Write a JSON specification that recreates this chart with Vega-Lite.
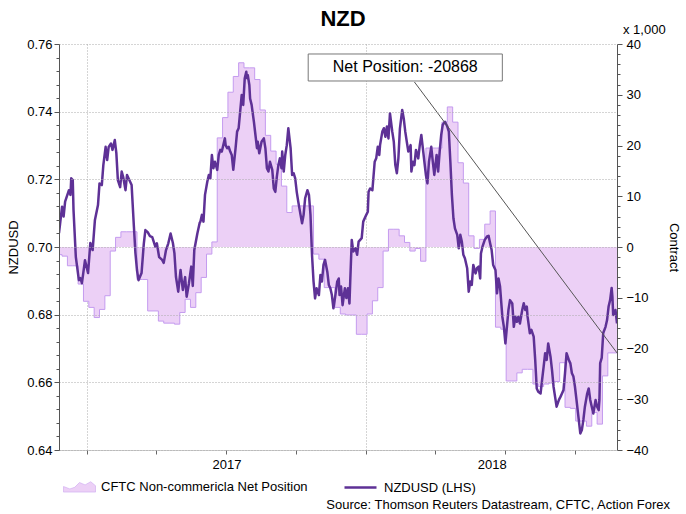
{
  "$schema": "https://vega.github.io/schema/vega-lite/v6.json",
  "width": 558,
  "height": 406,
  "autosize": {"type": "none"},
  "padding": {"left": 59, "top": 44, "right": 69, "bottom": 64},
  "background": "white",
  "config": {
    "font": "Liberation Sans",
    "view": {"stroke": null},
    "axis": {"labelFont": "Liberation Sans", "titleFont": "Liberation Sans", "labelFontSize": 13, "titleFontSize": 13, "labelColor": "#000", "titleColor": "#000", "titleFontWeight": "normal"},
    "legend": {"labelFont": "Liberation Sans", "labelFontSize": 13, "labelColor": "#000", "padding": 0, "labelLimit": 400}
  },
  "title": {"text": "NZD", "fontSize": 22, "fontWeight": "bold", "font": "Liberation Sans", "anchor": "middle", "frame": "group", "offset": 17, "dy": 24, "dx": 5, "color": "#000"},
  "datasets": {
    "cftc": [
      {"date": "2016-11-22", "net": -1500}, {"date": "2016-11-29", "net": -1800}, {"date": "2016-12-06", "net": -3700}, {"date": "2016-12-13", "net": -3700},
      {"date": "2016-12-20", "net": -7300}, {"date": "2016-12-27", "net": -10700}, {"date": "2017-01-03", "net": -11900}, {"date": "2017-01-10", "net": -13900},
      {"date": "2017-01-17", "net": -12300}, {"date": "2017-01-24", "net": -9600}, {"date": "2017-01-31", "net": -800}, {"date": "2017-02-07", "net": 1900},
      {"date": "2017-02-14", "net": 3000}, {"date": "2017-02-21", "net": 3000}, {"date": "2017-02-28", "net": 3000}, {"date": "2017-03-07", "net": -6400},
      {"date": "2017-03-14", "net": -6400}, {"date": "2017-03-21", "net": -12600}, {"date": "2017-03-28", "net": -12600}, {"date": "2017-04-04", "net": -14600},
      {"date": "2017-04-11", "net": -15000}, {"date": "2017-04-18", "net": -15000}, {"date": "2017-04-25", "net": -15200}, {"date": "2017-05-02", "net": -12900},
      {"date": "2017-05-09", "net": -10300}, {"date": "2017-05-16", "net": -11900}, {"date": "2017-05-23", "net": -9000}, {"date": "2017-05-30", "net": -6000},
      {"date": "2017-06-06", "net": -1400}, {"date": "2017-06-13", "net": 1000}, {"date": "2017-06-20", "net": 21500}, {"date": "2017-06-27", "net": 25500},
      {"date": "2017-07-04", "net": 30500}, {"date": "2017-07-11", "net": 33600}, {"date": "2017-07-18", "net": 36300}, {"date": "2017-07-25", "net": 35300},
      {"date": "2017-08-01", "net": 35300}, {"date": "2017-08-08", "net": 33000}, {"date": "2017-08-15", "net": 27000}, {"date": "2017-08-22", "net": 22000},
      {"date": "2017-08-29", "net": 18900}, {"date": "2017-09-05", "net": 16300}, {"date": "2017-09-12", "net": 12000}, {"date": "2017-09-19", "net": 6800},
      {"date": "2017-09-26", "net": 8100}, {"date": "2017-10-03", "net": 8100}, {"date": "2017-10-10", "net": 8100}, {"date": "2017-10-17", "net": 8100},
      {"date": "2017-10-24", "net": -1400}, {"date": "2017-10-31", "net": -2400}, {"date": "2017-11-07", "net": -8000}, {"date": "2017-11-14", "net": -8000},
      {"date": "2017-11-21", "net": -11900}, {"date": "2017-11-28", "net": -13200}, {"date": "2017-12-05", "net": -13400}, {"date": "2017-12-12", "net": -13400},
      {"date": "2017-12-19", "net": -17200}, {"date": "2017-12-26", "net": -17200}, {"date": "2018-01-02", "net": -13200}, {"date": "2018-01-09", "net": -10600},
      {"date": "2018-01-16", "net": -8000}, {"date": "2018-01-23", "net": -800}, {"date": "2018-01-30", "net": 3500}, {"date": "2018-02-06", "net": 3500},
      {"date": "2018-02-13", "net": 2200}, {"date": "2018-02-20", "net": 900}, {"date": "2018-02-27", "net": -800}, {"date": "2018-03-06", "net": -300},
      {"date": "2018-03-13", "net": -2800}, {"date": "2018-03-20", "net": 19500}, {"date": "2018-03-27", "net": 19500}, {"date": "2018-04-03", "net": 19500},
      {"date": "2018-04-10", "net": 24600}, {"date": "2018-04-17", "net": 27600}, {"date": "2018-04-24", "net": 24600}, {"date": "2018-05-01", "net": 16600},
      {"date": "2018-05-08", "net": 12600}, {"date": "2018-05-15", "net": 2200}, {"date": "2018-05-22", "net": -300}, {"date": "2018-05-29", "net": 1500},
      {"date": "2018-06-05", "net": 4500}, {"date": "2018-06-12", "net": 7100}, {"date": "2018-06-19", "net": -15800}, {"date": "2018-06-26", "net": -16200},
      {"date": "2018-07-03", "net": -26400}, {"date": "2018-07-10", "net": -26400}, {"date": "2018-07-17", "net": -24800}, {"date": "2018-07-24", "net": -24100},
      {"date": "2018-07-31", "net": -24100}, {"date": "2018-08-07", "net": -27000}, {"date": "2018-08-14", "net": -27500}, {"date": "2018-08-21", "net": -27000},
      {"date": "2018-08-28", "net": -26800}, {"date": "2018-09-04", "net": -26500}, {"date": "2018-09-11", "net": -22800}, {"date": "2018-09-18", "net": -31600},
      {"date": "2018-09-25", "net": -31800}, {"date": "2018-10-02", "net": -34300}, {"date": "2018-10-09", "net": -34300}, {"date": "2018-10-16", "net": -35300},
      {"date": "2018-10-23", "net": -32600}, {"date": "2018-10-30", "net": -34900}, {"date": "2018-11-06", "net": -25400}, {"date": "2018-11-13", "net": -20868},
      {"date": "2018-11-20", "net": -20868}, {"date": "2018-11-25", "net": -20868}
    ],
    "fx": [
      {"date": "2016-11-25", "nzdusd": 0.7041}, {"date": "2016-11-29", "nzdusd": 0.7119}, {"date": "2016-12-01", "nzdusd": 0.709}, {"date": "2016-12-03", "nzdusd": 0.7134},
      {"date": "2016-12-08", "nzdusd": 0.7168}, {"date": "2016-12-10", "nzdusd": 0.7154}, {"date": "2016-12-11", "nzdusd": 0.7203}, {"date": "2016-12-13", "nzdusd": 0.7198},
      {"date": "2016-12-14", "nzdusd": 0.7109}, {"date": "2016-12-17", "nzdusd": 0.6971}, {"date": "2016-12-21", "nzdusd": 0.6902}, {"date": "2016-12-23", "nzdusd": 0.6908},
      {"date": "2016-12-25", "nzdusd": 0.6893}, {"date": "2016-12-29", "nzdusd": 0.6961}, {"date": "2017-01-02", "nzdusd": 0.6923}, {"date": "2017-01-05", "nzdusd": 0.7012},
      {"date": "2017-01-08", "nzdusd": 0.6991}, {"date": "2017-01-11", "nzdusd": 0.708}, {"date": "2017-01-15", "nzdusd": 0.7124}, {"date": "2017-01-17", "nzdusd": 0.7188},
      {"date": "2017-01-20", "nzdusd": 0.7183}, {"date": "2017-01-22", "nzdusd": 0.7242}, {"date": "2017-01-25", "nzdusd": 0.7296}, {"date": "2017-01-27", "nzdusd": 0.7257},
      {"date": "2017-01-29", "nzdusd": 0.7296}, {"date": "2017-02-01", "nzdusd": 0.7306}, {"date": "2017-02-03", "nzdusd": 0.7287}, {"date": "2017-02-06", "nzdusd": 0.7316},
      {"date": "2017-02-08", "nzdusd": 0.7278}, {"date": "2017-02-10", "nzdusd": 0.7198}, {"date": "2017-02-13", "nzdusd": 0.7177}, {"date": "2017-02-15", "nzdusd": 0.7223},
      {"date": "2017-02-17", "nzdusd": 0.7207}, {"date": "2017-02-20", "nzdusd": 0.7168}, {"date": "2017-02-22", "nzdusd": 0.7213}, {"date": "2017-02-25", "nzdusd": 0.7198},
      {"date": "2017-02-28", "nzdusd": 0.7183}, {"date": "2017-03-03", "nzdusd": 0.706}, {"date": "2017-03-05", "nzdusd": 0.6982}, {"date": "2017-03-07", "nzdusd": 0.6932},
      {"date": "2017-03-09", "nzdusd": 0.6902}, {"date": "2017-03-13", "nzdusd": 0.6923}, {"date": "2017-03-16", "nzdusd": 0.7011}, {"date": "2017-03-18", "nzdusd": 0.705},
      {"date": "2017-03-21", "nzdusd": 0.7044}, {"date": "2017-03-24", "nzdusd": 0.7032}, {"date": "2017-03-27", "nzdusd": 0.7029}, {"date": "2017-03-31", "nzdusd": 0.7001},
      {"date": "2017-04-02", "nzdusd": 0.7011}, {"date": "2017-04-05", "nzdusd": 0.697}, {"date": "2017-04-09", "nzdusd": 0.6962}, {"date": "2017-04-11", "nzdusd": 0.6953},
      {"date": "2017-04-14", "nzdusd": 0.6991}, {"date": "2017-04-17", "nzdusd": 0.7011}, {"date": "2017-04-20", "nzdusd": 0.704}, {"date": "2017-04-23", "nzdusd": 0.7012},
      {"date": "2017-04-25", "nzdusd": 0.6982}, {"date": "2017-04-27", "nzdusd": 0.6912}, {"date": "2017-04-30", "nzdusd": 0.6868}, {"date": "2017-05-03", "nzdusd": 0.6932},
      {"date": "2017-05-06", "nzdusd": 0.6873}, {"date": "2017-05-09", "nzdusd": 0.6911}, {"date": "2017-05-11", "nzdusd": 0.6853}, {"date": "2017-05-14", "nzdusd": 0.6893},
      {"date": "2017-05-17", "nzdusd": 0.6942}, {"date": "2017-05-19", "nzdusd": 0.6885}, {"date": "2017-05-21", "nzdusd": 0.6991}, {"date": "2017-05-25", "nzdusd": 0.704},
      {"date": "2017-05-28", "nzdusd": 0.7071}, {"date": "2017-05-29", "nzdusd": 0.7075}, {"date": "2017-05-31", "nzdusd": 0.7095}, {"date": "2017-06-02", "nzdusd": 0.7075},
      {"date": "2017-06-04", "nzdusd": 0.7154}, {"date": "2017-06-07", "nzdusd": 0.7193}, {"date": "2017-06-09", "nzdusd": 0.7213}, {"date": "2017-06-11", "nzdusd": 0.7203},
      {"date": "2017-06-13", "nzdusd": 0.7272}, {"date": "2017-06-15", "nzdusd": 0.7233}, {"date": "2017-06-17", "nzdusd": 0.7252}, {"date": "2017-06-20", "nzdusd": 0.7228},
      {"date": "2017-06-22", "nzdusd": 0.7272}, {"date": "2017-06-24", "nzdusd": 0.7287}, {"date": "2017-06-26", "nzdusd": 0.7282}, {"date": "2017-06-30", "nzdusd": 0.7321},
      {"date": "2017-07-01", "nzdusd": 0.7301}, {"date": "2017-07-03", "nzdusd": 0.7292}, {"date": "2017-07-05", "nzdusd": 0.7296}, {"date": "2017-07-07", "nzdusd": 0.7282},
      {"date": "2017-07-09", "nzdusd": 0.7272}, {"date": "2017-07-11", "nzdusd": 0.7228}, {"date": "2017-07-14", "nzdusd": 0.7292}, {"date": "2017-07-16", "nzdusd": 0.7341},
      {"date": "2017-07-18", "nzdusd": 0.7351}, {"date": "2017-07-20", "nzdusd": 0.74}, {"date": "2017-07-22", "nzdusd": 0.7449}, {"date": "2017-07-24", "nzdusd": 0.742},
      {"date": "2017-07-26", "nzdusd": 0.7499}, {"date": "2017-07-28", "nzdusd": 0.7518}, {"date": "2017-07-29", "nzdusd": 0.7499}, {"date": "2017-07-30", "nzdusd": 0.7508},
      {"date": "2017-08-01", "nzdusd": 0.7479}, {"date": "2017-08-02", "nzdusd": 0.7439}, {"date": "2017-08-04", "nzdusd": 0.742}, {"date": "2017-08-07", "nzdusd": 0.737},
      {"date": "2017-08-09", "nzdusd": 0.7331}, {"date": "2017-08-11", "nzdusd": 0.7292}, {"date": "2017-08-12", "nzdusd": 0.7311}, {"date": "2017-08-14", "nzdusd": 0.7277},
      {"date": "2017-08-17", "nzdusd": 0.7311}, {"date": "2017-08-20", "nzdusd": 0.7321}, {"date": "2017-08-22", "nzdusd": 0.7292}, {"date": "2017-08-24", "nzdusd": 0.7233},
      {"date": "2017-08-26", "nzdusd": 0.7223}, {"date": "2017-08-28", "nzdusd": 0.7252}, {"date": "2017-08-31", "nzdusd": 0.7228}, {"date": "2017-09-02", "nzdusd": 0.7173},
      {"date": "2017-09-04", "nzdusd": 0.7163}, {"date": "2017-09-06", "nzdusd": 0.7208}, {"date": "2017-09-08", "nzdusd": 0.7242}, {"date": "2017-09-10", "nzdusd": 0.7262},
      {"date": "2017-09-12", "nzdusd": 0.7233}, {"date": "2017-09-13", "nzdusd": 0.7282}, {"date": "2017-09-15", "nzdusd": 0.7223}, {"date": "2017-09-17", "nzdusd": 0.7272},
      {"date": "2017-09-19", "nzdusd": 0.7301}, {"date": "2017-09-21", "nzdusd": 0.7351}, {"date": "2017-09-22", "nzdusd": 0.7331}, {"date": "2017-09-24", "nzdusd": 0.7292},
      {"date": "2017-09-26", "nzdusd": 0.7213}, {"date": "2017-09-28", "nzdusd": 0.7218}, {"date": "2017-09-30", "nzdusd": 0.7203}, {"date": "2017-10-02", "nzdusd": 0.7163},
      {"date": "2017-10-04", "nzdusd": 0.7134}, {"date": "2017-10-07", "nzdusd": 0.7095}, {"date": "2017-10-09", "nzdusd": 0.707}, {"date": "2017-10-11", "nzdusd": 0.7095},
      {"date": "2017-10-13", "nzdusd": 0.7144}, {"date": "2017-10-16", "nzdusd": 0.7168}, {"date": "2017-10-18", "nzdusd": 0.7154}, {"date": "2017-10-20", "nzdusd": 0.7095},
      {"date": "2017-10-22", "nzdusd": 0.6977}, {"date": "2017-10-24", "nzdusd": 0.6898}, {"date": "2017-10-26", "nzdusd": 0.6848}, {"date": "2017-10-28", "nzdusd": 0.6878},
      {"date": "2017-10-31", "nzdusd": 0.6858}, {"date": "2017-11-02", "nzdusd": 0.6917}, {"date": "2017-11-04", "nzdusd": 0.6898}, {"date": "2017-11-06", "nzdusd": 0.6947},
      {"date": "2017-11-08", "nzdusd": 0.6962}, {"date": "2017-11-11", "nzdusd": 0.6927}, {"date": "2017-11-13", "nzdusd": 0.6888}, {"date": "2017-11-15", "nzdusd": 0.6878},
      {"date": "2017-11-17", "nzdusd": 0.6858}, {"date": "2017-11-19", "nzdusd": 0.6819}, {"date": "2017-11-21", "nzdusd": 0.6848}, {"date": "2017-11-24", "nzdusd": 0.6898},
      {"date": "2017-11-26", "nzdusd": 0.6907}, {"date": "2017-11-27", "nzdusd": 0.6858}, {"date": "2017-11-29", "nzdusd": 0.6883}, {"date": "2017-12-01", "nzdusd": 0.6828},
      {"date": "2017-12-04", "nzdusd": 0.6878}, {"date": "2017-12-06", "nzdusd": 0.6849}, {"date": "2017-12-08", "nzdusd": 0.6878}, {"date": "2017-12-10", "nzdusd": 0.6833},
      {"date": "2017-12-11", "nzdusd": 0.6898}, {"date": "2017-12-13", "nzdusd": 0.7021}, {"date": "2017-12-15", "nzdusd": 0.6987}, {"date": "2017-12-18", "nzdusd": 0.6996},
      {"date": "2017-12-20", "nzdusd": 0.6977}, {"date": "2017-12-22", "nzdusd": 0.7016}, {"date": "2017-12-24", "nzdusd": 0.7021}, {"date": "2017-12-26", "nzdusd": 0.7026},
      {"date": "2017-12-28", "nzdusd": 0.7075}, {"date": "2018-01-01", "nzdusd": 0.7095}, {"date": "2018-01-03", "nzdusd": 0.7104}, {"date": "2018-01-04", "nzdusd": 0.7163},
      {"date": "2018-01-06", "nzdusd": 0.7173}, {"date": "2018-01-09", "nzdusd": 0.7168}, {"date": "2018-01-12", "nzdusd": 0.7252}, {"date": "2018-01-14", "nzdusd": 0.7262},
      {"date": "2018-01-16", "nzdusd": 0.7296}, {"date": "2018-01-18", "nzdusd": 0.7272}, {"date": "2018-01-19", "nzdusd": 0.7301}, {"date": "2018-01-22", "nzdusd": 0.7341},
      {"date": "2018-01-24", "nzdusd": 0.7351}, {"date": "2018-01-26", "nzdusd": 0.7326}, {"date": "2018-01-28", "nzdusd": 0.7356}, {"date": "2018-01-30", "nzdusd": 0.7321},
      {"date": "2018-02-01", "nzdusd": 0.7395}, {"date": "2018-02-04", "nzdusd": 0.7341}, {"date": "2018-02-06", "nzdusd": 0.7311}, {"date": "2018-02-08", "nzdusd": 0.7242},
      {"date": "2018-02-10", "nzdusd": 0.7218}, {"date": "2018-02-12", "nzdusd": 0.7262}, {"date": "2018-02-14", "nzdusd": 0.735}, {"date": "2018-02-17", "nzdusd": 0.7405},
      {"date": "2018-02-19", "nzdusd": 0.738}, {"date": "2018-02-21", "nzdusd": 0.7341}, {"date": "2018-02-23", "nzdusd": 0.7311}, {"date": "2018-02-25", "nzdusd": 0.7282},
      {"date": "2018-02-28", "nzdusd": 0.7301}, {"date": "2018-03-01", "nzdusd": 0.7223}, {"date": "2018-03-03", "nzdusd": 0.7252}, {"date": "2018-03-05", "nzdusd": 0.7242},
      {"date": "2018-03-07", "nzdusd": 0.7287}, {"date": "2018-03-10", "nzdusd": 0.7262}, {"date": "2018-03-12", "nzdusd": 0.7301}, {"date": "2018-03-14", "nzdusd": 0.7331},
      {"date": "2018-03-16", "nzdusd": 0.7292}, {"date": "2018-03-18", "nzdusd": 0.7252}, {"date": "2018-03-20", "nzdusd": 0.7213}, {"date": "2018-03-22", "nzdusd": 0.7188},
      {"date": "2018-03-24", "nzdusd": 0.7252}, {"date": "2018-03-27", "nzdusd": 0.7296}, {"date": "2018-03-29", "nzdusd": 0.7252}, {"date": "2018-03-31", "nzdusd": 0.7213},
      {"date": "2018-04-03", "nzdusd": 0.7272}, {"date": "2018-04-05", "nzdusd": 0.7223}, {"date": "2018-04-07", "nzdusd": 0.7282}, {"date": "2018-04-09", "nzdusd": 0.7331},
      {"date": "2018-04-11", "nzdusd": 0.7361}, {"date": "2018-04-14", "nzdusd": 0.737}, {"date": "2018-04-17", "nzdusd": 0.7356}, {"date": "2018-04-19", "nzdusd": 0.7341},
      {"date": "2018-04-21", "nzdusd": 0.7252}, {"date": "2018-04-23", "nzdusd": 0.7154}, {"date": "2018-04-25", "nzdusd": 0.7085}, {"date": "2018-04-27", "nzdusd": 0.7055},
      {"date": "2018-04-30", "nzdusd": 0.7036}, {"date": "2018-05-02", "nzdusd": 0.6996}, {"date": "2018-05-04", "nzdusd": 0.7036}, {"date": "2018-05-06", "nzdusd": 0.7016},
      {"date": "2018-05-08", "nzdusd": 0.6977}, {"date": "2018-05-10", "nzdusd": 0.6967}, {"date": "2018-05-13", "nzdusd": 0.6937}, {"date": "2018-05-15", "nzdusd": 0.6868},
      {"date": "2018-05-17", "nzdusd": 0.6898}, {"date": "2018-05-19", "nzdusd": 0.6888}, {"date": "2018-05-21", "nzdusd": 0.6947}, {"date": "2018-05-24", "nzdusd": 0.6922},
      {"date": "2018-05-26", "nzdusd": 0.6938}, {"date": "2018-05-28", "nzdusd": 0.6942}, {"date": "2018-05-30", "nzdusd": 0.6907}, {"date": "2018-05-31", "nzdusd": 0.6981},
      {"date": "2018-06-02", "nzdusd": 0.7001}, {"date": "2018-06-05", "nzdusd": 0.7021}, {"date": "2018-06-08", "nzdusd": 0.7031}, {"date": "2018-06-10", "nzdusd": 0.7033},
      {"date": "2018-06-12", "nzdusd": 0.7011}, {"date": "2018-06-14", "nzdusd": 0.6991}, {"date": "2018-06-16", "nzdusd": 0.6947}, {"date": "2018-06-19", "nzdusd": 0.6932},
      {"date": "2018-06-21", "nzdusd": 0.6863}, {"date": "2018-06-23", "nzdusd": 0.6907}, {"date": "2018-06-25", "nzdusd": 0.6883}, {"date": "2018-06-28", "nzdusd": 0.6794},
      {"date": "2018-06-30", "nzdusd": 0.6764}, {"date": "2018-07-02", "nzdusd": 0.6715}, {"date": "2018-07-04", "nzdusd": 0.6764}, {"date": "2018-07-06", "nzdusd": 0.6814},
      {"date": "2018-07-08", "nzdusd": 0.6843}, {"date": "2018-07-11", "nzdusd": 0.6833}, {"date": "2018-07-13", "nzdusd": 0.6764}, {"date": "2018-07-15", "nzdusd": 0.6794},
      {"date": "2018-07-17", "nzdusd": 0.6779}, {"date": "2018-07-19", "nzdusd": 0.6794}, {"date": "2018-07-21", "nzdusd": 0.6774}, {"date": "2018-07-24", "nzdusd": 0.6814},
      {"date": "2018-07-26", "nzdusd": 0.6834}, {"date": "2018-07-28", "nzdusd": 0.6814}, {"date": "2018-07-30", "nzdusd": 0.6824}, {"date": "2018-07-31", "nzdusd": 0.6794},
      {"date": "2018-08-03", "nzdusd": 0.6745}, {"date": "2018-08-05", "nzdusd": 0.6755}, {"date": "2018-08-08", "nzdusd": 0.6735}, {"date": "2018-08-10", "nzdusd": 0.6666},
      {"date": "2018-08-12", "nzdusd": 0.6582}, {"date": "2018-08-14", "nzdusd": 0.6572}, {"date": "2018-08-17", "nzdusd": 0.6567}, {"date": "2018-08-19", "nzdusd": 0.6607},
      {"date": "2018-08-21", "nzdusd": 0.6646}, {"date": "2018-08-23", "nzdusd": 0.6686}, {"date": "2018-08-25", "nzdusd": 0.6666}, {"date": "2018-08-27", "nzdusd": 0.6715},
      {"date": "2018-08-30", "nzdusd": 0.6676}, {"date": "2018-09-01", "nzdusd": 0.6636}, {"date": "2018-09-03", "nzdusd": 0.6587}, {"date": "2018-09-05", "nzdusd": 0.6557},
      {"date": "2018-09-07", "nzdusd": 0.6528}, {"date": "2018-09-10", "nzdusd": 0.6548}, {"date": "2018-09-12", "nzdusd": 0.6557}, {"date": "2018-09-14", "nzdusd": 0.6567},
      {"date": "2018-09-16", "nzdusd": 0.6577}, {"date": "2018-09-18", "nzdusd": 0.6627}, {"date": "2018-09-20", "nzdusd": 0.6686}, {"date": "2018-09-23", "nzdusd": 0.6666},
      {"date": "2018-09-25", "nzdusd": 0.6656}, {"date": "2018-09-27", "nzdusd": 0.6627}, {"date": "2018-09-29", "nzdusd": 0.6617}, {"date": "2018-10-01", "nzdusd": 0.6587},
      {"date": "2018-10-03", "nzdusd": 0.6548}, {"date": "2018-10-06", "nzdusd": 0.6489}, {"date": "2018-10-08", "nzdusd": 0.6449}, {"date": "2018-10-10", "nzdusd": 0.6459},
      {"date": "2018-10-12", "nzdusd": 0.6489}, {"date": "2018-10-14", "nzdusd": 0.6528}, {"date": "2018-10-17", "nzdusd": 0.6567}, {"date": "2018-10-19", "nzdusd": 0.6582},
      {"date": "2018-10-21", "nzdusd": 0.6548}, {"date": "2018-10-23", "nzdusd": 0.6528}, {"date": "2018-10-25", "nzdusd": 0.6508}, {"date": "2018-10-28", "nzdusd": 0.6548},
      {"date": "2018-10-30", "nzdusd": 0.6528}, {"date": "2018-11-01", "nzdusd": 0.6518}, {"date": "2018-11-02", "nzdusd": 0.6548}, {"date": "2018-11-03", "nzdusd": 0.6657},
      {"date": "2018-11-05", "nzdusd": 0.6672}, {"date": "2018-11-07", "nzdusd": 0.6746}, {"date": "2018-11-10", "nzdusd": 0.6764}, {"date": "2018-11-12", "nzdusd": 0.6784},
      {"date": "2018-11-14", "nzdusd": 0.6824}, {"date": "2018-11-16", "nzdusd": 0.6843}, {"date": "2018-11-18", "nzdusd": 0.6879}, {"date": "2018-11-19", "nzdusd": 0.6853},
      {"date": "2018-11-20", "nzdusd": 0.6799}, {"date": "2018-11-22", "nzdusd": 0.6809}, {"date": "2018-11-23", "nzdusd": 0.6814}, {"date": "2018-11-25", "nzdusd": 0.6774}
    ],
    "box": [{"date": "2017-10-17", "date2": "2018-06-28", "top": 38030, "bottom": 32710}],
    "callout": [{"date": "2018-02-21", "net": 35370, "label": "Net Position: -20868"}],
    "leader": [{"date": "2018-03-05", "date2": "2018-11-25", "net": 32510, "net2": -20868}],
    "unit": [{"date": "2018-11-25", "net": 40000, "label": "x 1,000"}],
    "source": [{"date": "2018-11-25", "net": -40000, "label": "Source: Thomson Reuters Datastream, CFTC, Action Forex"}]
  },
  "encoding": {
    "x": {
      "field": "date", "type": "temporal",
      "scale": {"type": "utc", "domain": [{"year": 2016, "month": 11, "date": 25, "utc": true}, {"year": 2018, "month": 11, "date": 25, "utc": true}]},
      "axis": {
        "title": null,
        "values": [
          {"year": 2017, "month": 1, "date": 1, "utc": true}, {"year": 2017, "month": 4, "date": 1, "utc": true},
          {"year": 2017, "month": 7, "date": 1, "utc": true}, {"year": 2017, "month": 7, "date": 2, "utc": true},
          {"year": 2017, "month": 10, "date": 1, "utc": true}, {"year": 2018, "month": 1, "date": 1, "utc": true},
          {"year": 2018, "month": 4, "date": 1, "utc": true}, {"year": 2018, "month": 6, "date": 14, "utc": true},
          {"year": 2018, "month": 7, "date": 1, "utc": true}, {"year": 2018, "month": 10, "date": 1, "utc": true}
        ],
        "labelExpr": "utcdate(datum.value) == 1 ? '' : utcFormat(datum.value, '%Y')",
        "labelOverlap": false, "labelFlush": false,
        "tickSize": 4, "tickColor": "#666",
        "tickOpacity": {"condition": {"test": "utcdate(datum.value) != 1", "value": 0}, "value": 1},
        "labelPadding": 4,
        "grid": true, "gridColor": "#aaa", "gridDash": [1, 2],
        "gridOpacity": {"condition": {"test": "utcmonth(datum.value) == 0 && utcdate(datum.value) == 1", "value": 1}, "value": 0},
        "domainColor": "#999", "domainDash": [1, 1]
      }
    }
  },
  "layer": [
    {
      "data": {"name": "cftc"},
      "encoding": {
        "y": {
          "field": "net", "type": "quantitative",
          "scale": {"domain": [-40000, 40000], "nice": false, "zero": false},
          "axis": {
            "orient": "right", "title": "Contract",
            "values": [-40000, -38000, -36000, -34000, -32000, -30000, -28000, -26000, -24000, -22000, -20000, -18000, -16000, -14000, -12000, -10000, -8000, -6000, -4000, -2000, 0, 2000, 4000, 6000, 8000, 10000, 12000, 14000, 16000, 18000, 20000, 22000, 24000, 26000, 28000, 30000, 32000, 34000, 36000, 38000, 40000],
            "labelExpr": "datum.value % 10000 == 0 ? format(datum.value / 1000, 'd') : ''",
            "tickSize": {"condition": {"test": "datum.value % 10000 == 0", "value": 5}, "value": 3},
            "tickColor": "#555", "domainColor": "#555", "grid": false,
            "labelPadding": 4, "labelOverlap": false, "labelFlush": false, "titlePadding": 18
          }
        }
      },
      "layer": [
        {
          "mark": {"type": "area", "interpolate": "step-after", "opacity": 1, "clip": true},
          "encoding": {
            "y2": {"datum": 0},
            "fill": {
              "datum": "CFTC Non-commericla Net Position", "type": "nominal",
              "scale": {"range": ["#ecd0f6"]},
              "legend": {"orient": "none", "legendX": 4, "legendY": 426, "title": null, "symbolType": "M-1,0 L-0.6,0.15 L-0.3,0.05 L0,-0.25 L0.35,-0.1 L0.7,-0.3 L1,-0.05 L1,0.35 L-1,0.35 Z", "symbolSize": 1024, "symbolStrokeColor": "#c49bef", "symbolStrokeWidth": 0.5, "labelOffset": 5}
            }
          }
        },
        {
          "mark": {"type": "line", "interpolate": "step-after", "color": "#c49bef", "strokeWidth": 1, "clip": true},
          "encoding": {}
        }
      ]
    },
    {
      "data": {"name": "fx"},
      "mark": {"type": "line", "strokeWidth": 2.5, "strokeJoin": "round", "clip": true},
      "encoding": {
        "y": {
          "field": "nzdusd", "type": "quantitative",
          "scale": {"domain": [0.64, 0.76], "nice": false, "zero": false},
          "axis": {
            "orient": "left", "title": "NZDUSD", "zindex": 1,
            "values": [0.64, 0.644, 0.648, 0.652, 0.656, 0.66, 0.664, 0.668, 0.672, 0.676, 0.68, 0.684, 0.688, 0.692, 0.696, 0.7, 0.704, 0.708, 0.712, 0.716, 0.72, 0.724, 0.728, 0.732, 0.736, 0.74, 0.744, 0.748, 0.752, 0.756, 0.76],
            "labelExpr": "abs(datum.value * 50 - round(datum.value * 50)) < 0.01 ? format(datum.value, '.2f') : ''",
            "tickSize": {"condition": {"test": "abs(datum.value * 50 - round(datum.value * 50)) < 0.01", "value": 5}, "value": 3},
            "tickColor": "#555", "domainColor": "#555",
            "grid": true, "gridColor": "#aaa", "gridDash": [1, 2],
            "gridOpacity": {"condition": {"test": "abs(datum.value * 50 - round(datum.value * 50)) < 0.01", "value": 1}, "value": 0},
            "labelPadding": 2, "labelOverlap": false, "labelFlush": false, "titlePadding": 6
          }
        },
        "stroke": {
          "datum": "NZDUSD (LHS)", "type": "nominal",
          "scale": {"range": ["#5e3196"]},
          "legend": {"orient": "none", "legendX": 284, "legendY": 426, "title": null, "symbolType": "stroke", "symbolSize": 1024, "symbolStrokeWidth": 2.5, "labelOffset": 6}
        }
      }
    },
    {
      "encoding": {
        "y": {"field": "net", "type": "quantitative", "scale": {"domain": [-40000, 40000], "nice": false, "zero": false}, "axis": null}
      },
      "layer": [
        {
          "data": {"name": "leader"},
          "mark": {"type": "rule", "color": "#555", "strokeWidth": 1},
          "encoding": {"x2": {"field": "date2"}, "y2": {"field": "net2"}}
        },
        {
          "data": {"name": "box"},
          "mark": {"type": "rect", "fill": "white", "stroke": "#777", "strokeWidth": 1},
          "encoding": {"x2": {"field": "date2"}, "y": {"field": "top", "type": "quantitative", "axis": null}, "y2": {"field": "bottom"}}
        },
        {
          "data": {"name": "callout"},
          "mark": {"type": "text", "fontSize": 16, "font": "Liberation Sans", "color": "#000", "align": "center", "baseline": "middle"},
          "encoding": {"text": {"field": "label"}}
        },
        {
          "data": {"name": "unit"},
          "mark": {"type": "text", "fontSize": 13, "font": "Liberation Sans", "color": "#000", "align": "left", "baseline": "middle", "dx": 6, "dy": -14, "clip": false},
          "encoding": {"text": {"field": "label"}}
        },
        {
          "data": {"name": "source"},
          "mark": {"type": "text", "fontSize": 13, "font": "Liberation Sans", "color": "#000", "align": "right", "baseline": "middle", "dx": 53, "dy": 55},
          "encoding": {"text": {"field": "label"}}
        }
      ]
    }
  ],
  "resolve": {"scale": {"y": "independent", "fill": "independent", "stroke": "independent"}, "axis": {"y": "independent"}}
}
